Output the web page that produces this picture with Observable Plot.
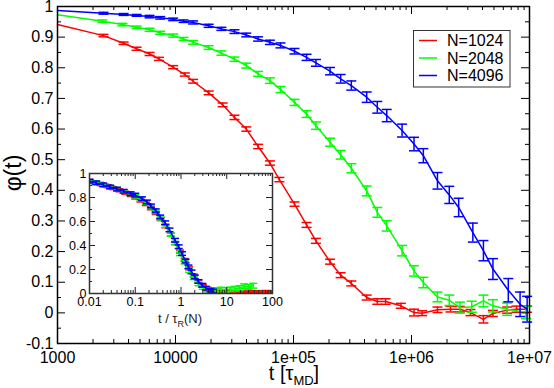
<!DOCTYPE html>
<html><head><meta charset="utf-8">
<script src="https://cdn.jsdelivr.net/npm/d3@7"></script>
<script src="https://cdn.jsdelivr.net/npm/@observablehq/plot@0.6"></script>
<style>
body{margin:0;background:#fff;}
#wrap{position:relative;width:554px;height:388px;font-family:"Liberation Sans",Arial,sans-serif;}
#wrap svg{position:absolute;}
</style></head><body><div id="wrap"></div>
<script>
// ---------- series ----------
const seriesNames = ["N=1024", "N=2048", "N=4096"];
const seriesColors = ["#ff0000", "#00ff00", "#0000ff"];

// main plot: phi(t) vs t [tau_MD]
const t1024 = [1000, 2450, 3630, 4680, 6030, 7240, 9550, 12000, 14100, 19100, 25100, 31600, 39800, 50100, 63100, 75900,
  102000, 129000, 155000, 204000, 251000, 309000, 417000, 513000, 603000, 813000,
  1050000, 1230000, 1660000, 2140000, 2570000, 3160000, 4070000, 4900000, 6460000, 7760000, 9550000];
const phi1024 = [0.941, 0.905, 0.88, 0.862, 0.845, 0.829, 0.802, 0.778, 0.756, 0.718, 0.679, 0.638, 0.600, 0.543, 0.489, 0.435,
  0.355, 0.287, 0.235, 0.167, 0.123, 0.096, 0.050, 0.037, 0.037, 0.023,
  0.001, -0.001, 0.010, 0.012, 0.012, 0.001, -0.021, -0.002, 0.009, 0.012, 0.012];
const err1024 = [0, 0.004, 0.004, 0.005, 0.005, 0.005, 0.005, 0.005, 0.006, 0.006, 0.006, 0.007, 0.007, 0.007, 0.007, 0.007,
  0.007, 0.008, 0.008, 0.008, 0.008, 0.008, 0.008, 0.009, 0.009, 0.008,
  0.011, 0.008, 0.009, 0.009, 0.009, 0.010, 0.012, 0.010, 0.010, 0.010, 0.010];

const t2048 = [1000, 2400, 3550, 4680, 6030, 7410, 9550, 11700, 14100, 19100, 24500, 31600, 39800, 50100, 63100, 77600,
  102000, 129000, 155000, 204000, 251000, 309000, 417000, 513000, 617000, 832000,
  1050000, 1260000, 1660000, 2090000, 2570000, 3240000, 4070000, 4900000, 6460000, 9330000];
const phi2048 = [0.973, 0.952, 0.941, 0.932, 0.924, 0.914, 0.905, 0.894, 0.883, 0.866, 0.848, 0.828, 0.807, 0.780, 0.758, 0.729,
  0.687, 0.649, 0.611, 0.557, 0.516, 0.472, 0.398, 0.328, 0.284, 0.203,
  0.137, 0.099, 0.052, 0.041, 0.017, 0.020, 0.039, 0.023, 0.012, 0.001];
const err2048 = [0, 0.004, 0.004, 0.004, 0.005, 0.005, 0.005, 0.005, 0.006, 0.006, 0.007, 0.007, 0.008, 0.008, 0.009, 0.010,
  0.010, 0.011, 0.012, 0.013, 0.014, 0.015, 0.016, 0.016, 0.017, 0.017,
  0.017, 0.017, 0.016, 0.017, 0.018, 0.018, 0.019, 0.020, 0.020, 0.020];

const t4096 = [1000, 2450, 3630, 4680, 6030, 7410, 9550, 11700, 14100, 19100, 24500, 31600, 39800, 50100, 63100, 77600,
  102000, 129000, 155000, 204000, 251000, 309000, 417000, 513000, 617000, 832000,
  1050000, 1260000, 1660000, 2090000, 2510000, 3310000, 4070000, 4900000, 6610000, 8320000, 9550000];
const phi4096 = [0.987, 0.978, 0.974, 0.971, 0.967, 0.963, 0.958, 0.952, 0.948, 0.937, 0.927, 0.918, 0.907, 0.894, 0.883, 0.873,
  0.854, 0.834, 0.816, 0.789, 0.764, 0.742, 0.704, 0.671, 0.644, 0.595,
  0.551, 0.513, 0.431, 0.385, 0.344, 0.262, 0.203, 0.143, 0.074, 0.028, 0.012];
const err4096 = [0, 0.003, 0.003, 0.003, 0.004, 0.004, 0.004, 0.004, 0.005, 0.005, 0.005, 0.006, 0.006, 0.007, 0.007, 0.008,
  0.009, 0.010, 0.011, 0.012, 0.014, 0.015, 0.017, 0.019, 0.020, 0.021,
  0.022, 0.023, 0.027, 0.028, 0.030, 0.031, 0.033, 0.034, 0.038, 0.040, 0.042];

// inset: phi vs t / tau_R(N)
const ix1024 = [0.01, 0.0135, 0.018, 0.025, 0.033, 0.045, 0.06, 0.08, 0.1, 0.13, 0.17, 0.22, 0.28, 0.36, 0.46, 0.6, 0.75, 0.95,
  1.2, 1.5, 1.9, 2.4, 3.0, 3.8, 4.8, 6, 8, 10, 13, 17, 22, 28, 36, 45, 60, 75, 95];
const iphi1024 = [0.94, 0.925, 0.91, 0.895, 0.878, 0.86, 0.84, 0.82, 0.80, 0.775, 0.745, 0.71, 0.67, 0.62, 0.56, 0.49, 0.42, 0.35,
  0.28, 0.21, 0.15, 0.10, 0.065, 0.04, 0.03, 0.025, 0.02, 0.015, 0.012, 0.012, 0.01, 0.008, 0.012, 0.01, 0.012, 0.012, 0.012];
const ierr1024 = [0.012, 0.012, 0.012, 0.012, 0.012, 0.012, 0.012, 0.012, 0.012, 0.012, 0.012, 0.012, 0.012, 0.012, 0.012, 0.012, 0.012, 0.012,
  0.012, 0.012, 0.012, 0.012, 0.012, 0.012, 0.012, 0.012, 0.012, 0.012, 0.012, 0.012, 0.012, 0.012, 0.012, 0.012, 0.012, 0.012, 0.012];

const ix2048 = [0.01, 0.013, 0.017, 0.022, 0.03, 0.04, 0.055, 0.075, 0.1, 0.13, 0.17, 0.22, 0.28, 0.36, 0.46, 0.6, 0.75, 0.95,
  1.2, 1.5, 1.9, 2.4, 3.0, 3.8, 4.8, 6, 7.5, 9.5, 12, 15, 19, 24, 30, 38];
const iphi2048 = [0.935, 0.925, 0.915, 0.9, 0.885, 0.87, 0.85, 0.83, 0.81, 0.785, 0.755, 0.72, 0.68, 0.625, 0.565, 0.49, 0.42, 0.33,
  0.26, 0.19, 0.13, 0.08, 0.05, 0.03, 0.025, 0.03, 0.035, 0.03, 0.035, 0.04, 0.045, 0.06, 0.055, 0.065];
const ierr2048 = [0.013, 0.013, 0.013, 0.013, 0.013, 0.013, 0.013, 0.013, 0.013, 0.013, 0.013, 0.013, 0.013, 0.013, 0.013, 0.013, 0.014, 0.014,
  0.014, 0.014, 0.014, 0.015, 0.015, 0.016, 0.016, 0.017, 0.017, 0.018, 0.018, 0.019, 0.02, 0.02, 0.02, 0.02];

const ix4096 = [0.01, 0.014, 0.02, 0.028, 0.04, 0.056, 0.079, 0.1, 0.14, 0.18, 0.22, 0.28, 0.35, 0.45, 0.56, 0.74, 0.89,
  1.05, 1.26, 1.45, 1.7, 2.0, 2.4, 2.9, 3.5, 4.4, 5.0];
const iphi4096 = [0.936, 0.922, 0.905, 0.888, 0.87, 0.852, 0.832, 0.82, 0.79, 0.763, 0.73, 0.69, 0.638, 0.59, 0.53, 0.444, 0.39,
  0.333, 0.27, 0.222, 0.18, 0.138, 0.10, 0.069, 0.045, 0.028, 0.02];
const ierr4096 = [0.015, 0.015, 0.015, 0.015, 0.015, 0.015, 0.015, 0.015, 0.015, 0.015, 0.015, 0.015, 0.015, 0.015, 0.015, 0.015, 0.015,
  0.015, 0.015, 0.015, 0.015, 0.015, 0.015, 0.015, 0.015, 0.015, 0.015];

// ---------- ticks ----------
const xTicks = [1e3, 1e4, 1e5, 1e6, 1e7];
const xTickLabels = ["1000", "10000", "1e+05", "1e+06", "1e+07"];
const yTicks = [-0.1, 0, 0.1, 0.2, 0.3, 0.4, 0.5, 0.6, 0.7, 0.8, 0.9, 1];
const yTickLabels = ["-0.1", "0", "0.1", "0.2", "0.3", "0.4", "0.5", "0.6", "0.7", "0.8", "0.9", "1"];
const yMinorTicks = [-0.05, 0.05, 0.15, 0.25, 0.35, 0.45, 0.55, 0.65, 0.75, 0.85, 0.95];
const insetXTicks = [0.01, 0.1, 1, 10, 100];
const insetXTickLabels = ["0.01", "0.1", "1", "10", "100"];
const insetYTicks = [0, 0.2, 0.4, 0.6, 0.8, 1];
const insetYTickLabels = ["0", "0.2", "0.4", "0.6", "0.8", "1"];
const insetYMinorTicks = [0.1, 0.3, 0.5, 0.7, 0.9];
const minorMultipliers = [2, 3, 4, 5, 6, 7, 8, 9];
const xMinorTicks = [1e3, 1e4, 1e5, 1e6].flatMap(d => minorMultipliers.map(m => d * m));
const insetXMinorTicks = [0.01, 0.1, 1, 10].flatMap(d => minorMultipliers.map(m => d * m));

// ---------- helpers ----------
const rows = (ts, ph, er) => ts.map((t, i) => ({t, phi: ph[i], err: er[i]}));
const mainData = [rows(t1024, phi1024, err1024), rows(t2048, phi2048, err2048), rows(t4096, phi4096, err4096)];
const insetData = [rows(ix1024, iphi1024, ierr1024), rows(ix2048, iphi2048, ierr2048), rows(ix4096, iphi4096, ierr4096)];

const capSymbol = {draw(ctx, size) { const r = Math.sqrt(size / Math.PI); ctx.moveTo(-r, 0); ctx.lineTo(r, 0); }};
function curveMarks(data, color, capR, clip) {
  const bars = data.filter(d => d.err > 0);
  return [
    Plot.line(data, {x: "t", y: "phi", stroke: color, strokeWidth: 1.5, clip}),
    Plot.ruleX(bars, {x: "t", y1: d => d.phi - d.err, y2: d => d.phi + d.err, stroke: color, strokeWidth: 1.5, clip}),
    Plot.dot(bars, {x: "t", y: d => d.phi - d.err, symbol: capSymbol, r: capR, stroke: color, fill: "none", strokeWidth: 1.5, clip}),
    Plot.dot(bars, {x: "t", y: d => d.phi + d.err, symbol: capSymbol, r: capR, stroke: color, fill: "none", strokeWidth: 1.5, clip})
  ];
}
function frameTicks(xs, ys, fw, fh, len, stroke) {
  return [
    Plot.tickX(xs, {x: d => d, insetTop: fh - len, stroke, strokeWidth: 1}),
    Plot.tickX(xs, {x: d => d, insetBottom: fh - len, stroke, strokeWidth: 1}),
    Plot.tickY(ys, {y: d => d, insetRight: fw - len, stroke, strokeWidth: 1}),
    Plot.tickY(ys, {y: d => d, insetLeft: fw - len, stroke, strokeWidth: 1})
  ];
}
const font = "Liberation Sans, Arial, Helvetica, sans-serif";

// ---------- main chart ----------
const W = 554, H = 388, mL = 57, mR = 25, mT = 6, mB = 45;
const fw = W - mL - mR, fh = H - mT - mB;
const xLab = new Map(xTicks.map((d, i) => [d, xTickLabels[i]]));
const yLab = new Map(yTicks.map((d, i) => [d, yTickLabels[i]]));

const main = Plot.plot({
  width: W, height: H, marginLeft: mL, marginRight: mR, marginTop: mT, marginBottom: mB,
  style: {fontFamily: font, fontSize: "16px", background: "white", overflow: "visible", color: "black"},
  x: {type: "log", domain: [1e3, 1e7], label: null},
  y: {domain: [-0.1, 1], label: null},
  marks: [
    ...mainData.flatMap((d, i) => curveMarks(d, seriesColors[i], 5, false)),
    ...frameTicks(xTicks, yTicks, fw, fh, 8, "black"),
    ...frameTicks(xMinorTicks, yMinorTicks, fw, fh, 4, "black"),
    Plot.axisX({ticks: xTicks, tickSize: 0, tickPadding: 8, tickFormat: d => xLab.get(d), label: null, fontSize: 16}),
    Plot.axisY({ticks: yTicks, tickSize: 0, tickPadding: 4, tickFormat: d => yLab.get(d), label: null, fontSize: 16}),
    Plot.frame({stroke: "black", strokeWidth: 1.5})
  ]
});
main.style.left = "0px"; main.style.top = "0px";

const msvg = d3.select(main);
// x label  t [tau_MD]
const xl = msvg.append("text").attr("x", 294).attr("y", 380).attr("text-anchor", "middle")
  .attr("font-family", font).attr("font-size", 20).attr("fill", "black");
xl.append("tspan").text("t [τ");
xl.append("tspan").attr("font-size", 13).attr("dy", 5).text("MD");
xl.append("tspan").attr("dy", -5).text("]");
// y label phi(t)
msvg.append("text").attr("transform", "translate(21,173) rotate(-90)").attr("text-anchor", "middle")
  .attr("font-family", font).attr("font-size", 23).attr("fill", "black").text("φ(t)");
// legend
const lg = msvg.append("g");
lg.append("rect").attr("x", 413.5).attr("y", 30.5).attr("width", 96.5).attr("height", 56.5)
  .attr("fill", "white").attr("stroke", "#333").attr("stroke-width", 1);
seriesNames.forEach((name, i) => {
  const y = 40.5 + i * 17.5;
  lg.append("line").attr("x1", 419).attr("x2", 437).attr("y1", y).attr("y2", y)
    .attr("stroke", seriesColors[i]).attr("stroke-width", 1.5);
  lg.append("text").attr("x", 447).attr("y", y + 5.5).attr("text-anchor", "start")
    .attr("font-family", font).attr("font-size", 16).attr("fill", "black").text(name);
});

// ---------- inset ----------
const IW = 240, IH = 190, iL = 39, iR = 18, iT = 13, iB = 57;
const ifw = IW - iL - iR, ifh = IH - iT - iB;
const ixLab = new Map(insetXTicks.map((d, i) => [d, insetXTickLabels[i]]));
const iyLab = new Map(insetYTicks.map((d, i) => [d, insetYTickLabels[i]]));

const inset = Plot.plot({
  width: IW, height: IH, marginLeft: iL, marginRight: iR, marginTop: iT, marginBottom: iB,
  style: {fontFamily: font, fontSize: "12.5px", background: "transparent", overflow: "visible", color: "black"},
  x: {type: "log", domain: [0.01, 100], label: null},
  y: {domain: [0, 1], label: null},
  marks: [
    Plot.frame({fill: "white"}),
    ...insetData.flatMap((d, i) => curveMarks(d, seriesColors[i], 4, "frame")),
    ...frameTicks(insetXTicks, insetYTicks, ifw, ifh, 6, "#222"),
    ...frameTicks(insetXMinorTicks, insetYMinorTicks, ifw, ifh, 3, "#222"),
    Plot.axisX({ticks: insetXTicks, tickSize: 0, tickPadding: 4, tickFormat: d => ixLab.get(d), label: null, fontSize: 12.5}),
    Plot.axisY({ticks: insetYTicks, tickSize: 0, tickPadding: 3, tickFormat: d => iyLab.get(d), label: null, fontSize: 12.5}),
    Plot.frame({stroke: "#333", strokeWidth: 1.5})
  ]
});
inset.style.left = "50px"; inset.style.top = "160px";
const isvg = d3.select(inset);
const il = isvg.append("text").attr("x", 130).attr("y", 163).attr("text-anchor", "middle")
  .attr("font-family", font).attr("font-size", 13).attr("fill", "#222");
il.append("tspan").text("t / τ");
il.append("tspan").attr("font-size", 9).attr("dy", 4).text("R");
il.append("tspan").attr("dy", -4).text("(N)");

const wrap = document.getElementById("wrap");
wrap.appendChild(main);
wrap.appendChild(inset);
</script>
</body></html>
